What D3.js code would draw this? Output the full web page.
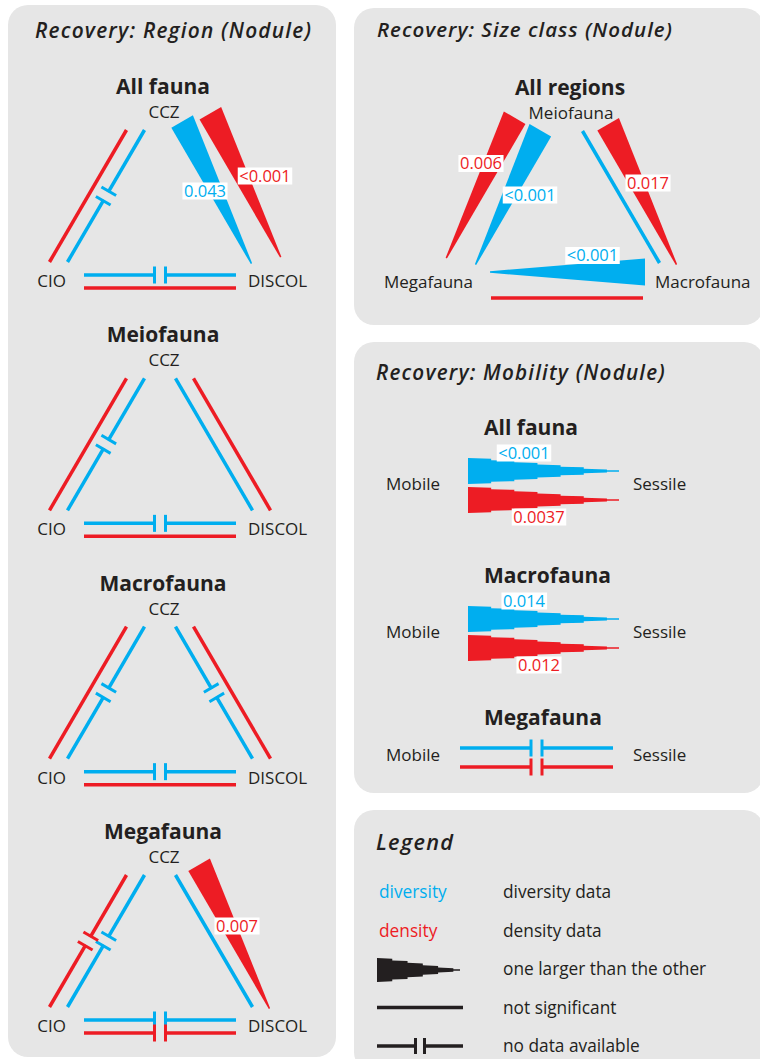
<!DOCTYPE html>
<html><head><meta charset="utf-8">
<script src="https://cdn.jsdelivr.net/npm/d3@7"></script>
<style>
body{margin:0;background:#fff}
svg{display:block}
text{font-family:"Open Sans",sans-serif;fill:#231f20}
</style>
</head><body>
<svg id="c" width="760" height="1059"></svg>
<script>
// ---------------- DATA ----------------
// codes: "ns" not significant, "nd" no data available, ">" first node larger, "<" second node larger
const regionGroups = ["All fauna", "Meiofauna", "Macrofauna", "Megafauna"];
const regionNodes = ["CCZ", "CIO", "DISCOL"];          // top, bottom-left, bottom-right
// edge order: CCZ–CIO, CCZ–DISCOL, CIO–DISCOL
const regionDiversity = [["nd", ">", "nd"], ["nd", "ns", "nd"], ["nd", "nd", "nd"], ["nd", "ns", "nd"]];
const regionDensity   = [["ns", ">", "ns"], ["ns", "ns", "ns"], ["ns", "ns", "ns"], ["nd", ">", "nd"]];
const regionDiversityP = [[null, "0.043", null], [null, null, null], [null, null, null], [null, null, null]];
const regionDensityP   = [[null, "<0.001", null], [null, null, null], [null, null, null], [null, "0.007", null]];

const sizeGroup = "All regions";
const sizeNodes = ["Meiofauna", "Megafauna", "Macrofauna"]; // top, bottom-left, bottom-right
// edge order: Meio–Mega, Meio–Macro, Mega–Macro
const sizeDiversity = [">", "ns", "<"];
const sizeDensity   = [">", ">", "ns"];
const sizeDiversityP = ["<0.001", null, "<0.001"];
const sizeDensityP   = ["0.006", "0.017", null];

const mobilityGroups = ["All fauna", "Macrofauna", "Megafauna"];
const mobilityNodes = ["Mobile", "Sessile"];
const mobilityDiversity = [">", ">", "nd"];
const mobilityDensity   = [">", ">", "nd"];
const mobilityDiversityP = ["<0.001", "0.014", null];
const mobilityDensityP   = ["0.0037", "0.012", null];

const panelTitles = ["Recovery: Region (Nodule)", "Recovery: Size class (Nodule)", "Recovery: Mobility (Nodule)", "Legend"];
const legendKeys = ["diversity", "density", "wedge", "ns", "nd"];
const legendTexts = ["diversity data", "density data", "one larger than the other", "not significant", "no data available"];

// ---------------- STYLE / LAYOUT ----------------
const BLUE = "#00aeef", RED = "#ed1c24", PANEL = "#e6e6e6", INK = "#231f20";
const LW = 3.5;
const svg = d3.select("#c");

// label offsets relative to lane midpoint (annotation placement)
const labelOffsets = {
  "r0-1-div": [-9, -5], "r0-1-den": [33, -20], "r3-1-den": [5, -15],
  "s-0-div": [17, -2], "s-0-den": [-14, -33.5], "s-1-den": [9, -14], "s-2-div": [25.5, -16.5]
};

// panels
const panels = [
  {x: 8, y: 5, w: 328, h: 1052},
  {x: 354, y: 8, w: 410, h: 317},
  {x: 354, y: 342, w: 410, h: 451},
  {x: 354, y: 810, w: 410, h: 262}
];
svg.selectAll("rect.panel").data(panels).join("rect").attr("class", "panel")
  .attr("x", d => d.x).attr("y", d => d.y).attr("width", d => d.w).attr("height", d => d.h)
  .attr("rx", 20).attr("fill", PANEL);

const titlePos = [[35, 38, 276], [377, 37, 295], [376, 380, 289], [376, 850, 77]];
svg.selectAll("text.ptitle").data(panelTitles).join("text").attr("class", "ptitle")
  .attr("x", (d, i) => titlePos[i][0]).attr("y", (d, i) => titlePos[i][1])
  .attr("font-size", 20.5).attr("font-style", "italic").attr("font-weight", 600).text(d => d)
  .each(function (d, i) {
    const w = this.getComputedTextLength();
    const target = titlePos[i][2];
    const maxLs = 1.2;
    let ls = (target - w) / (d.length - 1);
    if (ls > maxLs || ls < 0) {
      ls = Math.max(0, Math.min(ls, maxLs));
      d3.select(this).attr("font-size", 20.5 * (target - ls * (d.length - 1)) / w);
    }
    d3.select(this).attr("letter-spacing", ls);
  });

// ---------------- HELPERS ----------------
const add = (p, v, s) => [p[0] + v[0] * s, p[1] + v[1] * s];
function unit(p0, p1) { const dx = p1[0] - p0[0], dy = p1[1] - p0[1], L = Math.hypot(dx, dy); return {L, d: [dx / L, dy / L]}; }

function seg(g, a, b, color, w) {
  g.append("line").attr("x1", a[0]).attr("y1", a[1]).attr("x2", b[0]).attr("y2", b[1])
    .attr("stroke", color).attr("stroke-width", w || LW);
}
function brokenLine(g, p0, p1, color, gap, tick) {
  gap = gap || 5.5; tick = tick || 8.5;
  const {L, d} = unit(p0, p1);
  const n = [-d[1], d[0]];
  const a = add(p0, d, L / 2 - gap), b = add(p0, d, L / 2 + gap);
  seg(g, p0, add(a, d, 1), color);
  seg(g, add(b, d, -1), p1, color);
  [a, b].forEach(q => seg(g, add(q, n, -tick), add(q, n, tick), color, 3));
}
// wedge polygon: origin = inner point at wide end, d = direction to tip, n = outward normal
function wedge(g, origin, d, n, len, W, tip, anchor, steps, color) {
  const hw = d3.scaleLinear().domain([0, len]).range([W, tip]);
  let loc;
  if (!steps) {
    loc = anchor === "center"
      ? [[0, -hw(0) / 2], [0, hw(0) / 2], [len, hw(len) / 2], [len, -hw(len) / 2]]
      : [[0, 0], [0, hw(0)], [len, hw(len)], [len, 0]];
  } else {
    const body = len * 0.92, s = body / steps;
    const hs = d3.scaleLinear().domain([0, steps]).range([W, 0]);
    const upper = [];
    for (let i = 0; i < steps; i++) {
      const h = hs(i);
      upper.push([i * s, h / 2], [(i + 1) * s, h / 2 - 0.7]);
    }
    upper.push([body, tip / 2], [len, tip / 2]);
    const lower = upper.map(p => [p[0], -p[1]]).reverse();
    loc = upper.concat(lower);
  }
  const pts = loc.map(([u, v]) => [origin[0] + d[0] * u + n[0] * v, origin[1] + d[1] * u + n[1] * v]);
  g.append("path").attr("d", d3.line()(pts) + "Z").attr("fill", color);
}
function pLabel(g, x, y, text, color) {
  const lg = g.append("g");
  const r = lg.append("rect").attr("fill", "#fff");
  const t = lg.append("text").attr("x", x).attr("y", y + 5.8).attr("text-anchor", "middle")
    .attr("font-size", 16.5).style("fill", color).text(text);
  const bb = t.node().getBBox();
  r.attr("x", bb.x - 1.5).attr("y", y - 8.5).attr("width", bb.width + 3).attr("height", 17);
}

// ---------------- TRIANGLES ----------------
function triangle(g, cx, top, spec) {
  const H = 132;
  const cen = [cx, top + 90];
  const bIn = spec.bottom ? spec.bottom[0] : 145, bOut = spec.bottom ? spec.bottom[1] : 158;
  const edges = [
    {inner: [[cx - 15.5, top], [cx - 92.5, top + H]], outer: [[cx - 33.5, top], [cx - 110.5, top + H]], sep: 15.5},
    {inner: [[cx + 15.5, top], [cx + 92.5, top + H]], outer: [[cx + 33.5, top], [cx + 110.5, top + H]], sep: 15.5},
    {inner: [[cx - 76, top + bIn], [cx + 76, top + bIn]], outer: [[cx - 76, top + bOut], [cx + 76, top + bOut]], sep: bOut - bIn}
  ];
  const shapes = g.append("g"), labels = g.append("g");
  edges.forEach((e, k) => {
    const {L, d} = unit(e.inner[0], e.inner[1]);
    let n = [-d[1], d[0]];
    const mid = [(e.inner[0][0] + e.inner[1][0]) / 2, (e.inner[0][1] + e.inner[1][1]) / 2];
    if ((mid[0] - cen[0]) * n[0] + (mid[1] - cen[1]) * n[1] < 0) n = [-n[0], -n[1]];
    const center = (k === 2 && spec.bottomAnchor === "center");
    let used = -99;
    [["inner", spec.div[k], BLUE, spec.divP[k], "div", 0], ["outer", spec.den[k], RED, spec.denP[k], "den", 1]].forEach(([lane, code, color, p, key, li]) => {
      const [p0, p1] = e[lane];
      const base = lane === "inner" ? 0 : e.sep;
      if (code === "ns") seg(shapes, p0, p1, color);
      else if (code === "nd") brokenLine(shapes, p0, p1, color);
      else {
        const W = center ? 27 : 25;
        let off = center ? 0 : Math.max(-2.5, used + 3.5 - base);
        const extW = center ? 2 : spec.ext[li], extT = 1;
        let origin, dir;
        if (code === ">") { origin = add(add(p0, d, -extW), n, off); dir = d; }
        else { origin = add(add(p1, d, extW), n, off); dir = [-d[0], -d[1]]; }
        wedge(shapes, origin, dir, n, L + extW + extT, W, 1.5, center ? "center" : "inner", 0, color);
        used = base + off + W;
      }
      if (p) {
        const o = labelOffsets[spec.key + "-" + k + "-" + key];
        const m = [(p0[0] + p1[0]) / 2, (p0[1] + p1[1]) / 2];
        pLabel(labels, m[0] + o[0], m[1] + o[1], p, color);
      }
    });
  });
  // text
  g.append("text").attr("x", cx + 3).attr("y", top - 36).attr("text-anchor", "middle")
    .attr("font-weight", "bold").attr("font-size", 21).text(spec.title);
  g.append("text").attr("x", cx + 4).attr("y", top - 12).attr("text-anchor", "middle")
    .attr("font-size", 17).text(spec.nodes[0]);
  g.append("text").attr("x", cx - 94).attr("y", top + 157).attr("text-anchor", "end")
    .attr("font-size", 17).text(spec.nodes[1]);
  g.append("text").attr("x", cx + 88).attr("y", top + 157).attr("text-anchor", "start")
    .attr("font-size", 17).text(spec.nodes[2]);
  labels.raise();
}

const regionTop = d3.scalePoint().domain(regionGroups).range([130, 875]);
regionGroups.forEach((grp, i) => {
  triangle(svg.append("g"), 160, regionTop(grp), {
    key: "r" + i, title: grp, nodes: regionNodes, ext: [4, 6],
    div: regionDiversity[i], den: regionDensity[i], divP: regionDiversityP[i], denP: regionDensityP[i]
  });
});
triangle(svg.append("g"), 567, 131, {
  key: "s", title: sizeGroup, nodes: sizeNodes, div: sizeDiversity, den: sizeDensity, ext: [-5, 2],
  divP: sizeDiversityP, denP: sizeDensityP, bottom: [141, 167], bottomAnchor: "center"
});

// ---------------- MOBILITY ----------------
const rowY = d3.scaleOrdinal().domain(mobilityGroups).range([490, 638, 761]);
const wx = d3.scaleLinear().domain([0, 1]).range([468, 619]);
const lx = d3.scaleLinear().domain([0, 1]).range([460, 613]);
const mob = svg.append("g");
mobilityGroups.forEach((grp, i) => {
  const R = rowY(grp);
  const isW = mobilityDiversity[i] !== "nd" && mobilityDiversity[i] !== "ns";
  mob.append("text").attr("x", 484).attr("y", isW ? R - 55 : R - 36).attr("font-weight", "bold")
    .attr("font-size", 21).text(grp);
  mob.append("text").attr("x", 386).attr("y", R).attr("font-size", 17).text(mobilityNodes[0]);
  mob.append("text").attr("x", 633).attr("y", R).attr("font-size", 17).text(mobilityNodes[1]);
  [[mobilityDiversity[i], BLUE, mobilityDiversityP[i], isW ? R - 19 : R - 13, -18, 524],
   [mobilityDensity[i], RED, mobilityDensityP[i], isW ? R + 10 : R + 6, 17, 539]].forEach(([code, color, p, y, ly, lxp]) => {
    if (code === "ns") seg(mob, [lx(0), y], [lx(1), y], color);
    else if (code === "nd") brokenLine(mob, [lx(0), y], [lx(1), y], color, 5.5, 8.5);
    else {
      const origin = code === ">" ? [wx(0), y] : [wx(1), y];
      const dir = code === ">" ? [1, 0] : [-1, 0];
      wedge(mob, origin, dir, [0, 1], wx(1) - wx(0), 26, 1.5, "center", 6, color);
    }
    if (p) pLabel(mob, lxp, y + ly, p, color);
  });
});

// ---------------- LEGEND ----------------
const leg = svg.append("g");
const legY = d3.scalePoint().domain(legendKeys).range([898, 1052]);
legendKeys.forEach((k, i) => {
  const y = legY(k);
  leg.append("text").attr("x", 503).attr("y", y).attr("font-size", 17.3).text(legendTexts[i]);
  if (k === "diversity") leg.append("text").attr("x", 379).attr("y", y).attr("font-size", 17.3).style("fill", BLUE).text("diversity");
  if (k === "density") leg.append("text").attr("x", 379).attr("y", y).attr("font-size", 17.3).style("fill", RED).text("density");
  if (k === "wedge") wedge(leg, [377, y - 5], [1, 0], [0, 1], 83, 24, 1.5, "center", 5, INK);
  if (k === "ns") seg(leg, [377, y - 6], [463, y - 6], INK);
  if (k === "nd") brokenLine(leg, [377, y - 6], [463, y - 6], INK, 4.5, 8);
});
</script>
</body></html>
